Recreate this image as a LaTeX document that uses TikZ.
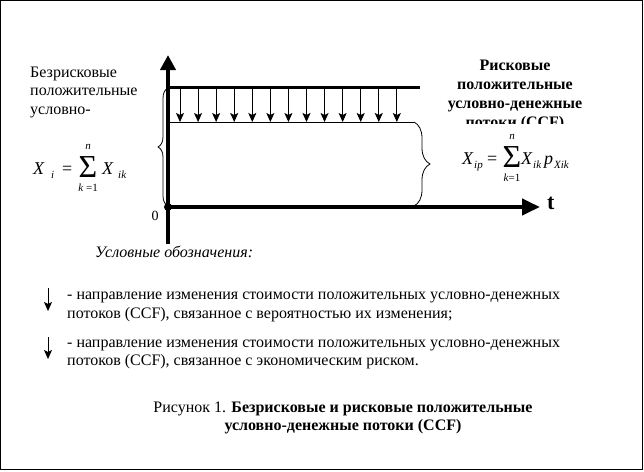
\documentclass[tikz,border=0pt]{standalone}
\usepackage{fontspec}
\setmainfont{LiberationSerif}[Extension=.ttf,UprightFont=*-Regular,BoldFont=*-Bold,ItalicFont=*-Italic,BoldItalicFont=*-BoldItalic]
\usetikzlibrary{arrows.meta,decorations.pathreplacing}
\begin{document}
\begin{tikzpicture}[x=1pt,y=-1pt,
  txt/.style={font=\fontsize{16}{18.5}\selectfont, inner sep=0pt, anchor=base west},
  btxt/.style={font=\fontsize{16}{18.5}\selectfont\bfseries, inner sep=0pt, anchor=base},
  mbig/.style={font=\fontsize{18}{18}\selectfont\itshape, inner sep=0pt, anchor=base west},
  msub/.style={font=\fontsize{11}{11}\selectfont\itshape, inner sep=0pt, anchor=base west},
  mlim/.style={font=\fontsize{11}{11}\selectfont, inner sep=0pt, anchor=center},
  mrel/.style={font=\fontsize{18}{18}\selectfont, inner sep=0pt, anchor=base west},
  msum/.style={font=\fontsize{32}{32}\selectfont, inner sep=0pt, anchor=center},
  axis/.style={line width=4pt},
  flowarrow/.style={line width=0.8pt, -{Stealth[length=9pt,width=8pt,inset=2pt]}},
  bracestyle/.style={decorate, line width=0.8pt}
]
\useasboundingbox (0,0) rectangle (644,471);
\draw[line width=1pt] (0.5,0.5) rectangle (642.5,469.5);

% axes
\coordinate (O) at (168,207);
\coordinate (ybot) at (168,244);
\coordinate (ytop) at (168,55);
\coordinate (xend) at (540,207);
\draw[axis, -{Triangle[length=15pt,width=15pt]}] (ybot) -- (ytop);
\draw[axis, -{Triangle[length=18pt,width=16pt]}] (O) -- (xend);
\fill (O) circle (4pt);
\node[font=\fontsize{14}{14}\selectfont, inner sep=0pt] (zero) at (155,216) {0};
\node[font=\fontsize{22}{22}\selectfont\bfseries, inner sep=0pt, anchor=base west] (t) at (547,209) {t};

% top line and thin line
\coordinate (topL) at (168,87);
\coordinate (topR) at (420,87);
\coordinate (thinL) at (168,122);
\coordinate (thinR) at (414,122);
\draw[line width=3pt] (topL) -- (topR);
\draw[line width=0.8pt] (thinL) -- (thinR);
\foreach \i in {0,...,12} {
  \coordinate (a\i) at ({180+18.07*\i},88);
  \coordinate (b\i) at ({180+18.07*\i},122);
  \draw[flowarrow] (a\i) -- (b\i);
}

% braces
\coordinate (lbB) at (168,206);
\coordinate (lbT) at (168,88);
\draw[bracestyle, decoration={brace, amplitude=10pt}] (lbB) -- (lbT);
\coordinate (rbT) at (414,122);
\coordinate (rbB) at (414,206);
\draw[bracestyle, decoration={brace, amplitude=16pt}] (rbT) -- (rbB);

% left text
\node[txt] (l1) at (30,77) {Безрисковые};
\node[txt] (l2) at (30,95.5) {положительные};
\node[txt] (l3) at (30,114) {условно-};

% left formula
\node[mbig] (lx) at (33,174) {X};
\node[msub] (lxi) at (51,178) {i};
\node[mrel] (leq) at (62,174) {=};
\node[msum] (lsum) at (88,167) {Σ};
\node[mlim] (ln) at (88,147) {\textit{n}};
\node[mlim] (lk) at (88,188) {\textit{k} =1};
\node[mbig] (lx2) at (102,174) {X};
\node[msub] (lxik) at (118,178) {ik};

% right text
\node[btxt] (r1) at (515,70) {Рисковые};
\node[btxt] (r2) at (515,89) {положительные};
\node[btxt] (r3) at (515,108) {условно-денежные};
\begin{scope}
\clip (440,110) rectangle (600,123.5);
\node[btxt] (r4) at (515,127) {потоки (CCF)};
\end{scope}

% right formula
\node[mbig] (rx) at (462,164) {X};
\node[msub] (rxip) at (474,168) {ip};
\node[mrel] (req) at (487,164) {=};
\node[msum] (rsum) at (512,157) {Σ};
\node[mlim] (rn) at (512,137) {\textit{n}};
\node[mlim] (rk) at (512,178) {\textit{k}=1};
\node[mbig] (rx2) at (521,164) {X};
\node[msub] (rxik) at (533,168) {ik};
\node[mbig] (rp) at (544,164) {p};
\node[msub] (rpx) at (554,168) {Xik};

% legend
\node[txt, font=\fontsize{16}{18.5}\selectfont\itshape] (leg) at (95,257) {Условные обозначения:};
\coordinate (la1) at (48,288);
\coordinate (lb1) at (48,311);
\coordinate (la2) at (48,337);
\coordinate (lb2) at (48,359);
\draw[flowarrow] (la1) -- (lb1);
\draw[flowarrow] (la2) -- (lb2);
\node[txt] (g1) at (67,299) {- направление изменения стоимости положительных условно-денежных};
\node[txt] (g2) at (67,318) {потоков (CCF), связанное с вероятностью их изменения;};
\node[txt] (g3) at (67,347) {- направление изменения стоимости положительных условно-денежных};
\node[txt] (g4) at (67,365.5) {потоков (CCF), связанное с экономическим риском.};

% caption
\node[txt, anchor=base] (c1) at (343,412) {Рисунок 1. \textbf{Безрисковые и рисковые положительные}};
\node[txt, anchor=base] (c2) at (343,430) {\textbf{условно-денежные потоки (CCF)}};
\end{tikzpicture}
\end{document}
